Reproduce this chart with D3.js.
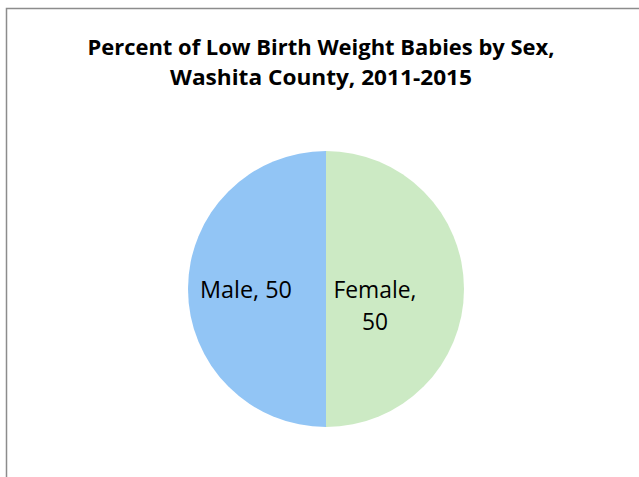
<!DOCTYPE html>
<html>
<head>
<meta charset="utf-8">
<script src="https://cdn.jsdelivr.net/npm/d3@7/dist/d3.min.js"></script>
<style>
  html, body { margin: 0; padding: 0; background: #fff; }
  svg { display: block; }
</style>
</head>
<body>
<svg id="chart" width="639" height="477"></svg>
<script>
const titleLines = ["Percent of Low Birth Weight Babies by Sex,", "Washita County, 2011-2015"]
const categories = ["Male", "Female"]
const values = [50, 50]
const colors = ["#92c5f5", "#cceac4"]

const width = 639, height = 477
const cx = 326, cy = 289, radius = 138

const svg = d3.select("#chart")

// chart frame, runs off the right and bottom edges
svg.append("rect")
    .attr("x", 6.5).attr("y", 8.5)
    .attr("width", 660).attr("height", 500)
    .attr("fill", "#fff")
    .attr("stroke", "#8c8c8c")
    .attr("stroke-width", 1.5)

// title
const titleWidths = [467, 302]
svg.append("g").selectAll("text")
    .data(titleLines)
  .enter().append("text")
    .attr("x", 321)
    .attr("y", (d, i) => 55 + i * 30)
    .attr("text-anchor", "middle")
    .attr("font-family", "'Open Sans', sans-serif")
    .attr("font-weight", "bold")
    .attr("font-size", 21)
    .attr("fill", "#000")
    .attr("textLength", (d, i) => titleWidths[i])
    .attr("lengthAdjust", "spacingAndGlyphs")
    .text(d => d)

const data = categories.map((c, i) => ({ name: c, value: values[i], color: colors[i] }))

const pie = d3.pie().sort(null).value(d => d.value)
    .startAngle(Math.PI).endAngle(3 * Math.PI)
const arc = d3.arc().innerRadius(0).outerRadius(radius)

const g = svg.append("g").attr("transform", `translate(${cx},${cy})`)

const arcs = pie(data)

g.selectAll("path")
    .data(arcs)
  .enter().append("path")
    .attr("d", arc)
    .attr("fill", d => d.data.color)

// data labels, Female wraps onto two lines like the original
const labelR = { Male: 80, Female: 49 }
const labelLines = d => d.data.name === "Female"
    ? [d.data.name + ",", String(d.data.value)]
    : [d.data.name + ", " + d.data.value]
const labelWidths = { "Male, 50": 92, "Female,": 83, "50": 26 }

const labels = g.selectAll("g.label")
    .data(arcs)
  .enter().append("g")
    .attr("class", "label")
    .attr("transform", d => {
      const a = d3.arc().innerRadius(labelR[d.data.name]).outerRadius(labelR[d.data.name])
      const [x, y] = a.centroid(d)
      return `translate(${x},${y})`
    })

labels.selectAll("text")
    .data(d => labelLines(d))
  .enter().append("text")
    .attr("y", (d, i) => 9 + i * 32)
    .attr("text-anchor", "middle")
    .attr("font-family", "'Open Sans', sans-serif")
    .attr("font-size", 23)
    .attr("fill", "#000")
    .attr("textLength", d => labelWidths[d])
    .attr("lengthAdjust", "spacingAndGlyphs")
    .text(d => d)
</script>
</body>
</html>
